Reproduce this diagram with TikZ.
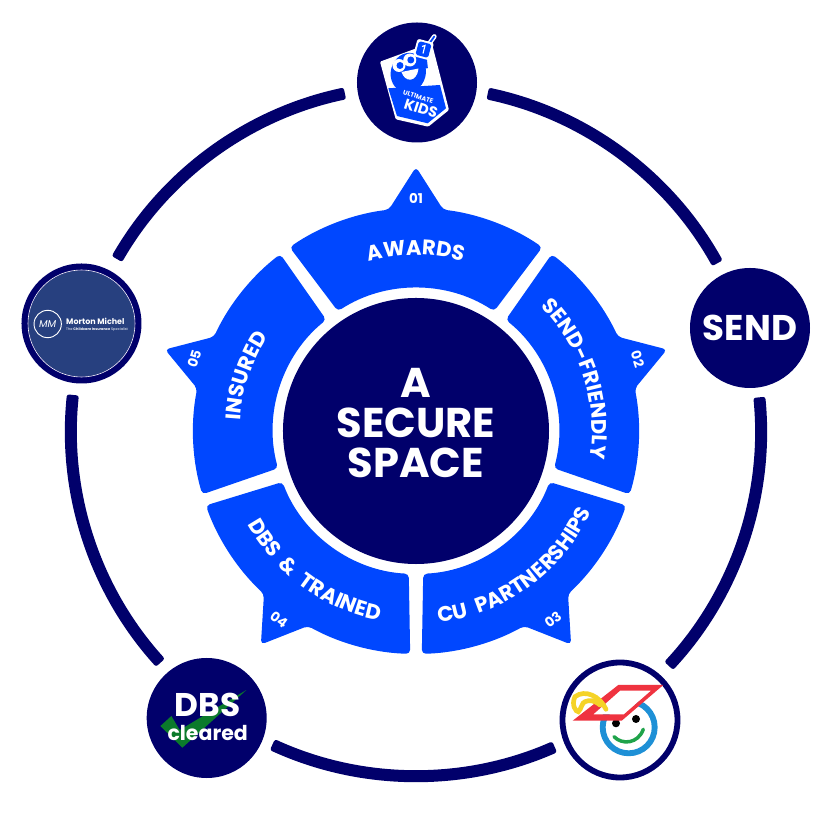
\documentclass[tikz,border=0pt]{standalone}
\usepackage{fontspec}
\setmainfont{Poppins}
\usetikzlibrary{decorations.text}
\definecolor{navy}{HTML}{01006B}
\definecolor{segblue}{HTML}{0047FF}
\definecolor{mortonblue}{HTML}{27407F}
\definecolor{checkgreen}{HTML}{0B7A2B}
\definecolor{capred}{HTML}{EF3340}
\definecolor{faceblue}{HTML}{1E90D6}
\definecolor{smilegreen}{HTML}{1FA34A}
\definecolor{tasselyellow}{HTML}{F5D327}
\newcommand{\seglabelfont}{\fontsize{18}{20}\selectfont\bfseries\spaceskip=0.45em\relax}
\tikzset{
  logodisc/.style={circle,fill=navy,minimum size=3.6cm,inner sep=0pt,text=white},
  ringarc/.style={fill=navy,rounded corners=2pt},
  segment/.style={fill=segblue,rounded corners=3.5pt},
  seglabel/.style={decorate,decoration={text along path,text align=center,text color=white}},
  segnum/.style={text=white,font=\fontsize{11.5}{12}\selectfont\bfseries,inner sep=0pt}
}
\begin{document}
\begin{tikzpicture}[scale=0.03]
\useasboundingbox (-416,-382) rectangle (414,431);

%outer ring
\fill[ringarc] (78:351) arc[start angle=78,end angle=29.1,radius=351] -- (29.1:339) arc[start angle=29.1,end angle=78,radius=339] -- cycle;
\fill[ringarc] (5.6:351) arc[start angle=5.6,end angle=-42.9,radius=351] -- (-42.9:339) arc[start angle=-42.9,end angle=5.6,radius=339] -- cycle;
\fill[ringarc] (-66.3:351) arc[start angle=-66.3,end angle=-114.6,radius=351] -- (-114.6:339) arc[start angle=-114.6,end angle=-66.3,radius=339] -- cycle;
\fill[ringarc] (222.2:351) arc[start angle=222.2,end angle=174,radius=351] -- (174:339) arc[start angle=174,end angle=222.2,radius=339] -- cycle;
\fill[ringarc] (150.1:351) arc[start angle=150.1,end angle=101.9,radius=351] -- (101.9:339) arc[start angle=101.9,end angle=150.1,radius=339] -- cycle;

%five blue segments
\fill[segment] (124.5:223) arc[start angle=124.5,end angle=97,radius=223] -- (90:264) -- (83:223) arc[start angle=83,end angle=55.5,radius=223] -- (56.9:143) arc[start angle=56.9,end angle=123.1,radius=143] -- cycle;
\fill[segment,rotate=-72] (124.5:223) arc[start angle=124.5,end angle=97,radius=223] -- (90:264) -- (83:223) arc[start angle=83,end angle=55.5,radius=223] -- (56.9:143) arc[start angle=56.9,end angle=123.1,radius=143] -- cycle;
\fill[segment,rotate=-144] (124.5:223) arc[start angle=124.5,end angle=97,radius=223] -- (90:264) -- (83:223) arc[start angle=83,end angle=55.5,radius=223] -- (56.9:143) arc[start angle=56.9,end angle=123.1,radius=143] -- cycle;
\fill[segment,rotate=144] (124.5:223) arc[start angle=124.5,end angle=97,radius=223] -- (90:264) -- (83:223) arc[start angle=83,end angle=55.5,radius=223] -- (56.9:143) arc[start angle=56.9,end angle=123.1,radius=143] -- cycle;
\fill[segment,rotate=72] (124.5:223) arc[start angle=124.5,end angle=97,radius=223] -- (90:264) -- (83:223) arc[start angle=83,end angle=55.5,radius=223] -- (56.9:143) arc[start angle=56.9,end angle=123.1,radius=143] -- cycle;

%curved segment labels
\path[seglabel,decoration={text={|\seglabelfont|AWARDS}}] (124:176) arc[start angle=124,end angle=56,radius=176];
\path[seglabel,decoration={text={|\seglabelfont|SEND-FRIENDLY}}] (52:176) arc[start angle=52,end angle=-16,radius=176];
\path[seglabel,decoration={text={|\seglabelfont|CU PARTNERSHIPS}}] (-88:193) arc[start angle=-88,end angle=-20,radius=193];
\path[seglabel,decoration={text={|\seglabelfont|DBS {\&} TRAINED}}] (200:193) arc[start angle=200,end angle=268,radius=193];
\path[seglabel,decoration={text={|\seglabelfont|INSURED}}] (196:176) arc[start angle=196,end angle=128,radius=176];

%segment numbers
\node[segnum] (num1) at (90:233) {01};
\node[segnum,rotate=-72] (num2) at (18:233) {02};
\node[segnum,rotate=36] (num3) at (-54:233) {03};
\node[segnum,rotate=-36] (num4) at (234:233) {04};
\node[segnum,rotate=72] (num5) at (162:233) {05};

%centre disc
\node[circle,fill=navy,minimum size=7.98cm,inner sep=0pt] (hub) at (0,0) {};
\node[text=white,align=center,font=\fontsize{35.5}{34}\selectfont\bfseries] (hubtext) at (0,8) {A\\SECURE\\SPACE};

%top logo
\node[logodisc] (kids) at (1,348.5) {};
\begin{scope}[shift={(1,348.5)}]
\fill[white,rounded corners=1pt] (-37,20.8) -- (14.7,39.8) -- (32,-27.5) -- (11.3,-44.2) -- (-21.3,-36.8) -- cycle;
\fill[segblue] (-28.7,-5.8) -- (23,-2.5) -- (29,-25.8) -- (10.7,-40.8) -- (-20,-33.5) -- cycle;
\fill[segblue,rotate around={-15:(-8.7,9.8)}] (-8.7,9.8) ellipse[x radius=17.5,y radius=20];
\draw[segblue,line width=5pt] (8,14) -- (6.3,29);
\fill[segblue] (-1,-8) rectangle (3,-3);
\fill[white] (-18,17) circle[radius=6.5] (-7.2,22.5) circle[radius=6.5];
\fill[segblue] (-17,17) circle[radius=3.5] (-6.2,22.5) circle[radius=3.5];
\fill[white] (-15.5,10.5) .. controls (-12,-0.5) and (0,0) .. (1.5,14) -- cycle;
\draw[white,line width=4pt,line cap=round] (11,37) -- (17.3,46);
\draw[segblue,line width=1.5pt,line cap=round] (11,37) -- (17.3,46);
\fill[white,rotate around={-15:(6.5,33)},rounded corners=2pt] (-2,24) rectangle (15,42);
\fill[segblue,rotate around={-15:(6.5,33)},rounded corners=1.5pt] (0,26) rectangle (13,40);
\draw[white,line width=1pt] (5,36) -- (8,37) -- (6,29);
\node[text=white,rotate=-18,font=\fontsize{5.5}{6}\selectfont\bfseries,inner sep=0pt] (kids1) at (1.3,-14.5) {ULTIMATE};
\node[text=white,rotate=-18,font=\fontsize{12.5}{13}\selectfont\bfseries,inner sep=0pt] (kids2) at (4,-26) {KIDS};
\end{scope}

%right logo
\node[logodisc,font=\fontsize{30.5}{31}\selectfont\bfseries] (send) at (334,103) {SEND};

%lower right logo
\node[circle,draw=navy,line width=5pt,fill=white,minimum size=3.45cm,inner sep=0pt] (cap) at (204,-289) {};
\begin{scope}[shift={(204,-289)}]
\draw[faceblue,line width=5pt] (8.7,-7.3) circle[radius=26];
\fill[black] (-4,-3.3) circle[radius=4] (16,1) circle[radius=4];
\draw[smilegreen,line width=3pt,line cap=round] (-6,-16.7) .. controls (2,-25) and (18,-24) .. (23.3,-9.3);
\fill[white] (-26.7,5.7) -- (0,29.3) -- (31,29.3) -- (4,5.7) -- cycle;
\fill[capred,even odd rule] (-47.3,-0.7) -- (-1.7,35) -- (43.3,35) -- (1.7,-0.7) -- cycle (-26.7,5.7) -- (0,29.3) -- (31,29.3) -- (4,5.7) -- cycle;
\draw[tasselyellow,line width=4pt,line cap=round] (-14,10.7) .. controls (-20,24) and (-35,31) .. (-45,23.3) .. controls (-49,15) and (-44,8) .. (-41.7,8.3) .. controls (-39,10) and (-38,18) .. (-35,18.3) .. controls (-31,20) and (-26,20) .. (-20,15);
\end{scope}

%lower left logo
\node[logodisc] (dbs) at (-209.3,-287) {};
\begin{scope}[shift={(-209.3,-287)}]
\fill[checkgreen] (-46.3,-8) -- (-35.3,2) -- (-27,-12) -- (39.7,28) -- (-24.3,-29.7) -- cycle;
\node[text=white,anchor=base,font=\fontsize{28}{29}\selectfont\bfseries,inner sep=0pt] (dbs1) at (1,1.3) {DBS};
\node[text=white,anchor=base,font=\fontsize{17.5}{18}\selectfont\bfseries,inner sep=0pt] (dbs2) at (1,-22.7) {cleared};
\end{scope}

%left logo
\node[logodisc] (morton) at (-334.5,107.5) {};
\begin{scope}[shift={(-334.5,107.5)}]
\fill[mortonblue] (0,0) circle[radius=53];
\draw[white,line width=0.5pt] (0,0) circle[radius=53.5];
\node[circle,draw=white,line width=0.8pt,minimum size=0.82cm,inner sep=0pt,text=white,font=\fontsize{8.5}{9}\selectfont\itshape] (mm) at (-33.8,-0.5) {MM};
\node[text=white,anchor=base west,font=\fontsize{6.8}{8}\selectfont\bfseries,inner sep=0pt] (morton1) at (-15.5,-1) {Morton Michel};
\node[text=white,anchor=base west,font=\fontsize{3}{4}\selectfont,inner sep=0pt] (morton2) at (-15.5,-7) {The \textbf{Childcare Insurance} Specialist};
\end{scope}
\end{tikzpicture}
\end{document}
